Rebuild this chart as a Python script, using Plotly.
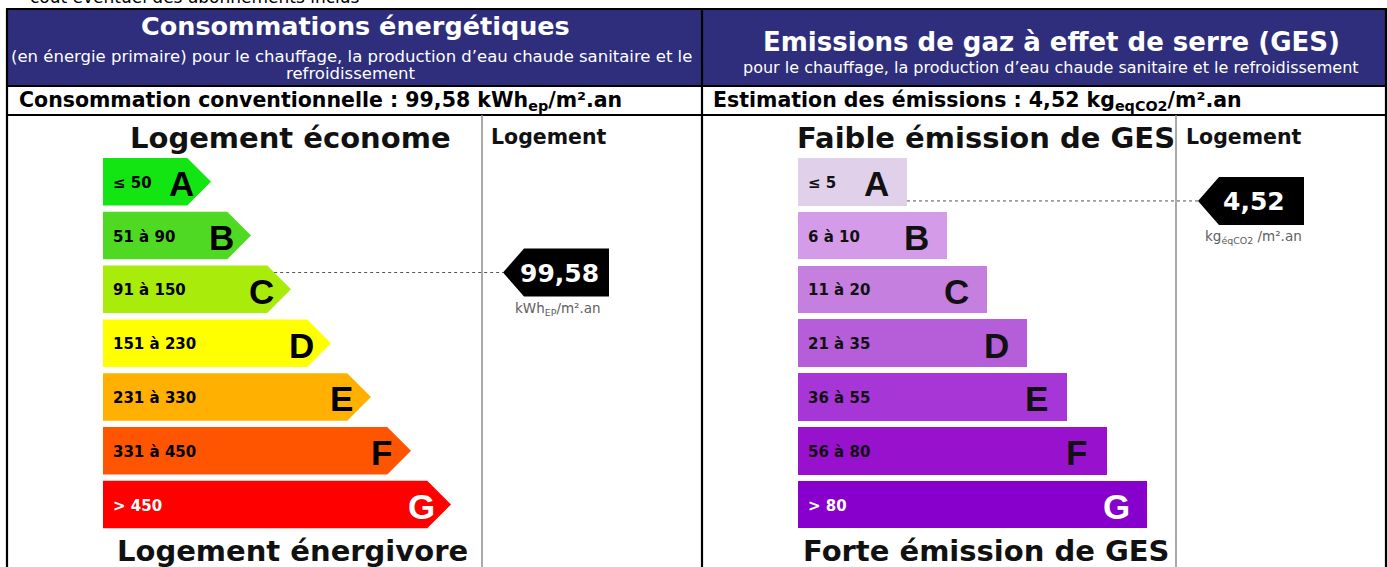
import plotly.graph_objects as go

# ---------------- data ----------------
classes = ["A", "B", "C", "D", "E", "F", "G"]
energy_ranges = ["≤ 50", "51 à 90", "91 à 150", "151 à 230", "231 à 330", "331 à 450", "> 450"]
energy_low = [0, 51, 91, 151, 231, 331, 451]
energy_high = [50, 90, 150, 230, 330, 450, 600]
ges_ranges = ["≤ 5", "6 à 10", "11 à 20", "21 à 35", "36 à 55", "56 à 80", "> 80"]
ges_low = [0, 6, 11, 21, 36, 56, 81]
ges_high = [5, 10, 20, 35, 55, 80, 120]
energy_value = 99.58
ges_value = 4.52
energy_value_label = "99,58"
ges_value_label = "4,52"

# ---------------- styles ----------------
energy_colors = ["#12E512", "#50D923", "#A9EC0C", "#FFFF00", "#FFB000", "#FF5500", "#FF0000"]
ges_colors = ["#E0D0EA", "#D49CE8", "#C57FDE", "#B65DDA", "#A636D6", "#9812CE", "#8800CB"]
NAVY = "#2E2E7C"
W, H = 1387, 567

# layout geometry (pixels)
BAR_TOP = 158.0
BAR_STEP = 53.8
BAR_H = 47.5
E_LEFT = 103
E_LEN0 = 108
G_LEFT = 798
G_LEN0 = 109
LEN_STEP = 40

fig = go.Figure()
shapes = []
ann = []


def bar_y0(i):
    return BAR_TOP + i * BAR_STEP


def value_y(val, lows, highs):
    for i in range(len(lows)):
        if val <= highs[i]:
            frac = (val - lows[i]) / (highs[i] - lows[i])
            frac = min(max(frac, 0), 1)
            return i, bar_y0(i) + frac * BAR_H
    return len(lows) - 1, bar_y0(len(lows) - 1) + BAR_H


# ---- table background & lines ----
shapes.append(dict(type="rect", x0=7, x1=1386, y0=9, y1=86, fillcolor=NAVY,
                   line=dict(width=0), layer="below"))
for (x0, y0, x1, y1) in [(6, 9, 1387, 9), (6, 86, 1387, 86), (6, 115, 1387, 115),
                         (7, 9, 7, H), (702, 9, 702, H), (1386, 9, 1386, H)]:
    shapes.append(dict(type="line", x0=x0, y0=y0, x1=x1, y1=y1,
                       line=dict(color="black", width=2.2)))
for xg in (482, 1176):
    shapes.append(dict(type="line", x0=xg, y0=115, x1=xg, y1=H,
                       line=dict(color="#8C8C8C", width=1.5)))

# ---- energy arrows ----
for i, c in enumerate(classes):
    y0 = bar_y0(i)
    y1 = y0 + BAR_H
    ym = (y0 + y1) / 2
    tip = E_LEFT + E_LEN0 + LEN_STEP * i
    body = tip - BAR_H / 2
    fig.add_trace(go.Scatter(
        x=[E_LEFT, body, tip, body, E_LEFT, E_LEFT],
        y=[y0, y0, ym, y1, y1, y0],
        fill="toself", fillcolor=energy_colors[i], mode="lines",
        line=dict(width=0, color=energy_colors[i]), hoverinfo="skip", showlegend=False))
    tc = "white" if c == "G" else "black"
    ann.append(dict(x=E_LEFT + 8, y=ym + 1, text=energy_ranges[i], xanchor="left", yanchor="middle",
                    showarrow=False, font=dict(family="DejaVu Sans", size=15, color=tc, weight="bold")))
    ann.append(dict(x=tip - 30, y=ym + 2, text=c, xanchor="center", yanchor="middle",
                    showarrow=False, font=dict(family="Liberation Sans", size=35, color=tc, weight="bold")))

# ---- GES bars ----
ges_len = [G_LEN0 + LEN_STEP * i for i in range(len(classes))]
ges_centers = [bar_y0(i) + BAR_H / 2 for i in range(len(classes))]
fig.add_trace(go.Bar(
    orientation="h", y=ges_centers, x=ges_len, base=G_LEFT, width=BAR_H,
    marker=dict(color=ges_colors, line=dict(width=0)), hoverinfo="skip", showlegend=False))
for i, c in enumerate(classes):
    ym = ges_centers[i]
    right = G_LEFT + ges_len[i]
    tc = "white" if c == "G" else "#111111"
    ann.append(dict(x=G_LEFT + 8, y=ym + 1, text=ges_ranges[i], xanchor="left", yanchor="middle",
                    showarrow=False, font=dict(family="DejaVu Sans", size=15, color=tc, weight="bold")))
    ann.append(dict(x=right - 31, y=ym + 2, text=c, xanchor="center", yanchor="middle",
                    showarrow=False, font=dict(family="Liberation Sans", size=35, color=tc, weight="bold")))

# ---- value markers ----
def marker(val, lows, highs, left, len0, arrow, tip_x, label, unit):
    i, ym = value_y(val, lows, highs)
    y0 = bar_y0(i)
    if arrow:
        tip = left + len0 + LEN_STEP * i
        body = tip - BAR_H / 2
        start = body + abs(ym - y0) if ym < y0 + BAR_H / 2 else body + abs(y0 + BAR_H - ym)
    else:
        start = left + len0 + LEN_STEP * i
    shapes.append(dict(type="line", x0=start, y0=ym, x1=tip_x, y1=ym,
                       line=dict(color="#555555", width=1, dash="dot")))
    mh = 24
    fig.add_trace(go.Scatter(
        x=[tip_x, tip_x + 21, tip_x + 106, tip_x + 106, tip_x + 21, tip_x],
        y=[ym, ym - mh, ym - mh, ym + mh, ym + mh, ym],
        fill="toself", fillcolor="black", mode="lines", line=dict(width=0, color="black"),
        hoverinfo="skip", showlegend=False))
    ann.append(dict(x=tip_x + 56, y=ym + 1, text=label, xanchor="center", yanchor="middle", showarrow=False,
                    font=dict(family="DejaVu Sans", size=25, color="white", weight="bold")))
    ann.append(dict(x=tip_x + 55, y=ym + 36, text=unit, xanchor="center", yanchor="middle", showarrow=False,
                    font=dict(family="DejaVu Sans", size=13.5, color="#606060")))


marker(energy_value, energy_low, energy_high, E_LEFT, E_LEN0, True, 503, energy_value_label,
       "kWh<sub>EP</sub>/m².an")
marker(ges_value, ges_low, ges_high, G_LEFT, G_LEN0, False, 1198, ges_value_label,
       "kg<sub>éqCO2</sub> /m².an")

# ---- chart titles ----
big = dict(family="DejaVu Sans", size=29, color="#111111", weight="bold")
ann.append(dict(x=290, y=138, text="Logement économe", xanchor="center", yanchor="middle", showarrow=False, font=big))
ann.append(dict(x=292, y=551, text="Logement énergivore", xanchor="center", yanchor="middle", showarrow=False, font=big))
ann.append(dict(x=986, y=138, text="Faible émission de GES", xanchor="center", yanchor="middle", showarrow=False, font=big))
ann.append(dict(x=986, y=551, text="Forte émission de GES", xanchor="center", yanchor="middle", showarrow=False, font=big))
small = dict(family="DejaVu Sans", size=20.5, color="#111111", weight="bold")
ann.append(dict(x=489, y=137, text="Logement", xanchor="left", yanchor="middle", showarrow=False, font=small))
ann.append(dict(x=1184, y=137, text="Logement", xanchor="left", yanchor="middle", showarrow=False, font=small))

# ---- header texts ----
hf = "DejaVu Sans"
ann.append(dict(x=355, y=26, text="Consommations énergétiques", xanchor="center", yanchor="middle", showarrow=False,
                font=dict(family=hf, size=25.5, color="white", weight="bold")))
ann.append(dict(x=351, y=56, text="(en énergie primaire) pour le chauffage, la production d’eau chaude sanitaire et le",
                xanchor="center", yanchor="middle", showarrow=False, font=dict(family=hf, size=16.5, color="white")))
ann.append(dict(x=351, y=73, text="refroidissement", xanchor="center", yanchor="middle", showarrow=False,
                font=dict(family=hf, size=16.5, color="white")))
ann.append(dict(x=1051, y=42, text="Emissions de gaz à effet de serre (GES)", xanchor="center", yanchor="middle",
                showarrow=False, font=dict(family=hf, size=26, color="white", weight="bold")))
ann.append(dict(x=1051, y=67, text="pour le chauffage, la production d’eau chaude sanitaire et le refroidissement",
                xanchor="center", yanchor="middle", showarrow=False, font=dict(family=hf, size=16, color="white")))
ann.append(dict(x=17, y=101, text="Consommation conventionnelle : 99,58 kWh<sub>ep</sub>/m².an", xanchor="left",
                yanchor="middle", showarrow=False, font=dict(family=hf, size=20.5, color="black", weight="bold")))
ann.append(dict(x=711, y=101, text="Estimation des émissions : 4,52 kg<sub>eqCO2</sub>/m².an", xanchor="left",
                yanchor="middle", showarrow=False, font=dict(family=hf, size=20.5, color="black", weight="bold")))
ann.append(dict(x=28, y=9, text="coût éventuel des abonnements inclus", xanchor="left", yanchor="bottom",
                showarrow=False, font=dict(family=hf, size=17, color="black")))

fig.update_layout(
    width=W, height=H, margin=dict(l=0, r=0, t=0, b=0),
    paper_bgcolor="white", plot_bgcolor="white",
    xaxis=dict(range=[0, W], visible=False, fixedrange=True),
    yaxis=dict(range=[H, 0], visible=False, fixedrange=True),
    shapes=shapes, annotations=ann, showlegend=False, bargap=0,
)
fig.write_html("out.html", config={"displayModeBar": False, "staticPlot": True},
               post_script="document.body.style.margin='0';document.body.style.overflow='hidden';")
